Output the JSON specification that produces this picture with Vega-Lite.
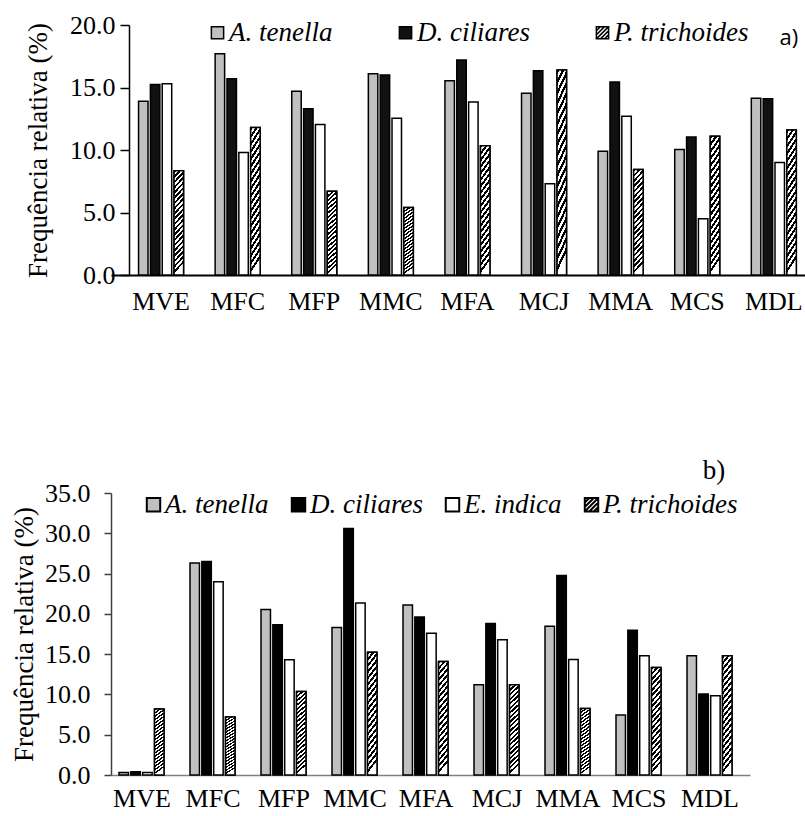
{
  "$schema": "https://vega.github.io/schema/vega-lite/v6.json",
  "background": "white",
  "padding": {"left": 10, "top": 12, "right": 0, "bottom": 0},
  "spacing": 143,
  "resolve": {"scale": {"fill": "independent"}, "legend": {"fill": "independent"}},
  "config": {
    "view": {"stroke": null},
    "font": "Liberation Serif",
    "axis": {"labelFont": "Liberation Serif", "titleFont": "Liberation Serif", "labelColor": "black", "titleColor": "black", "titleFontWeight": "normal", "grid": false},
    "legend": {"labelFont": "Liberation Serif", "labelFontStyle": "italic", "labelFontSize": 27, "labelColor": "black"}
  },
  "datasets": {
    "a": [
      {"site": "MVE", "sp": "A. tenella", "v": 13.9}, {"site": "MVE", "sp": "D. ciliares", "v": 15.25}, {"site": "MVE", "sp": "E. indica", "v": 15.3}, {"site": "MVE", "sp": "P. trichoides", "v": 8.35},
      {"site": "MFC", "sp": "A. tenella", "v": 17.7}, {"site": "MFC", "sp": "D. ciliares", "v": 15.7}, {"site": "MFC", "sp": "E. indica", "v": 9.8}, {"site": "MFC", "sp": "P. trichoides", "v": 11.8},
      {"site": "MFP", "sp": "A. tenella", "v": 14.7}, {"site": "MFP", "sp": "D. ciliares", "v": 13.3}, {"site": "MFP", "sp": "E. indica", "v": 12.05}, {"site": "MFP", "sp": "P. trichoides", "v": 6.7},
      {"site": "MMC", "sp": "A. tenella", "v": 16.1}, {"site": "MMC", "sp": "D. ciliares", "v": 16.0}, {"site": "MMC", "sp": "E. indica", "v": 12.55}, {"site": "MMC", "sp": "P. trichoides", "v": 5.4},
      {"site": "MFA", "sp": "A. tenella", "v": 15.55}, {"site": "MFA", "sp": "D. ciliares", "v": 17.2}, {"site": "MFA", "sp": "E. indica", "v": 13.85}, {"site": "MFA", "sp": "P. trichoides", "v": 10.35},
      {"site": "MCJ", "sp": "A. tenella", "v": 14.55}, {"site": "MCJ", "sp": "D. ciliares", "v": 16.35}, {"site": "MCJ", "sp": "E. indica", "v": 7.3}, {"site": "MCJ", "sp": "P. trichoides", "v": 16.4},
      {"site": "MMA", "sp": "A. tenella", "v": 9.9}, {"site": "MMA", "sp": "D. ciliares", "v": 15.45}, {"site": "MMA", "sp": "E. indica", "v": 12.7}, {"site": "MMA", "sp": "P. trichoides", "v": 8.45},
      {"site": "MCS", "sp": "A. tenella", "v": 10.05}, {"site": "MCS", "sp": "D. ciliares", "v": 11.05}, {"site": "MCS", "sp": "E. indica", "v": 4.5}, {"site": "MCS", "sp": "P. trichoides", "v": 11.1},
      {"site": "MDL", "sp": "A. tenella", "v": 14.15}, {"site": "MDL", "sp": "D. ciliares", "v": 14.1}, {"site": "MDL", "sp": "E. indica", "v": 9.0}, {"site": "MDL", "sp": "P. trichoides", "v": 11.6}
    ],
    "b": [
      {"site": "MVE", "sp": "A. tenella", "v": 0.3}, {"site": "MVE", "sp": "D. ciliares", "v": 0.4}, {"site": "MVE", "sp": "E. indica", "v": 0.3}, {"site": "MVE", "sp": "P. trichoides", "v": 8.2},
      {"site": "MFC", "sp": "A. tenella", "v": 26.3}, {"site": "MFC", "sp": "D. ciliares", "v": 26.5}, {"site": "MFC", "sp": "E. indica", "v": 24.0}, {"site": "MFC", "sp": "P. trichoides", "v": 7.2},
      {"site": "MFP", "sp": "A. tenella", "v": 20.55}, {"site": "MFP", "sp": "D. ciliares", "v": 18.65}, {"site": "MFP", "sp": "E. indica", "v": 14.3}, {"site": "MFP", "sp": "P. trichoides", "v": 10.35},
      {"site": "MMC", "sp": "A. tenella", "v": 18.3}, {"site": "MMC", "sp": "D. ciliares", "v": 30.6}, {"site": "MMC", "sp": "E. indica", "v": 21.35}, {"site": "MMC", "sp": "P. trichoides", "v": 15.25},
      {"site": "MFA", "sp": "A. tenella", "v": 21.1}, {"site": "MFA", "sp": "D. ciliares", "v": 19.6}, {"site": "MFA", "sp": "E. indica", "v": 17.6}, {"site": "MFA", "sp": "P. trichoides", "v": 14.1},
      {"site": "MCJ", "sp": "A. tenella", "v": 11.2}, {"site": "MCJ", "sp": "D. ciliares", "v": 18.8}, {"site": "MCJ", "sp": "E. indica", "v": 16.8}, {"site": "MCJ", "sp": "P. trichoides", "v": 11.2},
      {"site": "MMA", "sp": "A. tenella", "v": 18.45}, {"site": "MMA", "sp": "D. ciliares", "v": 24.75}, {"site": "MMA", "sp": "E. indica", "v": 14.35}, {"site": "MMA", "sp": "P. trichoides", "v": 8.25},
      {"site": "MCS", "sp": "A. tenella", "v": 7.45}, {"site": "MCS", "sp": "D. ciliares", "v": 17.95}, {"site": "MCS", "sp": "E. indica", "v": 14.8}, {"site": "MCS", "sp": "P. trichoides", "v": 13.35},
      {"site": "MDL", "sp": "A. tenella", "v": 14.8}, {"site": "MDL", "sp": "D. ciliares", "v": 10.05}, {"site": "MDL", "sp": "E. indica", "v": 9.85}, {"site": "MDL", "sp": "P. trichoides", "v": 14.8}
    ]
  },
  "vconcat": [
    {
      "width": 695,
      "height": 250,
      "layer": [
        {
          "data": {"name": "a"},
          "mark": {"type": "bar", "stroke": "black", "strokeWidth": 1.5},
          "encoding": {
            "x": {"field": "site", "type": "nominal", "sort": ["MVE", "MFC", "MFP", "MMC", "MFA", "MCJ", "MMA", "MCS", "MDL"],
              "scale": {"paddingInner": 0.4125, "paddingOuter": 0.243, "align": 0.74},
              "axis": {"title": null, "labelAngle": 0, "ticks": false, "tickSize": 0, "labelPadding": 13, "labelFontSize": 26, "domainColor": "black", "domainWidth": 2}},
            "xOffset": {"field": "sp", "type": "nominal", "sort": ["A. tenella", "D. ciliares", "E. indica", "P. trichoides"], "scale": {"paddingInner": 0.2}},
            "y": {"field": "v", "type": "quantitative", "scale": {"domain": [0, 20]},
              "axis": {"title": "Frequência relativa (%)", "values": [0, 5, 10, 15, 20], "format": ".1f", "offset": -18, "tickSize": 9, "tickColor": "black", "tickWidth": 1.5, "domainColor": "black", "domainWidth": 1.5, "labelPadding": 5, "labelFontSize": 26, "titleFontSize": 27, "titlePadding": 17}},
            "fill": {"field": "sp", "type": "nominal",
              "scale": {"domain": ["A. tenella", "D. ciliares", "E. indica", "P. trichoides"], "range": ["#c0c0c0", "#111111", "#ffffff", "#ffffff"]},
              "legend": {"orient": "none", "legendX": 93, "legendY": -6, "direction": "horizontal", "title": null, "padding": 0,
                "values": ["A. tenella", "D. ciliares", "P. trichoides"],
                "labelFont": "Liberation Serif", "labelFontStyle": "italic", "labelFontSize": 27, "labelColor": "black", "labelOffset": -2, "columnPadding": 59,
                "symbolType": "square", "symbolSize": 150, "symbolStrokeColor": "black", "symbolStrokeWidth": 1.5,
                "encode": {"symbols": {"update": {"shape": {"signal": "datum.value === 'P. trichoides' ? 'M-1,-1H1V1H-1Z M-1,-0.33L-0.33,-1 M-1,0.33L0.33,-1 M-1,1L1,-1 M-0.33,1L1,-0.33 M0.33,1L1,0.33' : 'square'"}, "stroke": {"value": "black"}, "strokeWidth": {"value": 1.5}}}}}
            }
          }
        },
        {
          "data": {"name": "a"},
          "transform": [{"filter": "datum.sp === 'P. trichoides'"}],
          "mark": {"type": "bar", "stroke": "black", "strokeWidth": 1.5,
            "fill": {"gradient": "linear", "x1": 0, "y1": 0, "x2": 0.1, "y2": 1, "stops": [
              {"offset": 0, "color": "#000"}, {"offset": 0.025, "color": "#000"}, {"offset": 0.025, "color": "#fff"}, {"offset": 0.05, "color": "#fff"},
              {"offset": 0.05, "color": "#000"}, {"offset": 0.075, "color": "#000"}, {"offset": 0.075, "color": "#fff"}, {"offset": 0.1, "color": "#fff"},
              {"offset": 0.1, "color": "#000"}, {"offset": 0.125, "color": "#000"}, {"offset": 0.125, "color": "#fff"}, {"offset": 0.15, "color": "#fff"},
              {"offset": 0.15, "color": "#000"}, {"offset": 0.175, "color": "#000"}, {"offset": 0.175, "color": "#fff"}, {"offset": 0.2, "color": "#fff"},
              {"offset": 0.2, "color": "#000"}, {"offset": 0.225, "color": "#000"}, {"offset": 0.225, "color": "#fff"}, {"offset": 0.25, "color": "#fff"},
              {"offset": 0.25, "color": "#000"}, {"offset": 0.275, "color": "#000"}, {"offset": 0.275, "color": "#fff"}, {"offset": 0.3, "color": "#fff"},
              {"offset": 0.3, "color": "#000"}, {"offset": 0.325, "color": "#000"}, {"offset": 0.325, "color": "#fff"}, {"offset": 0.35, "color": "#fff"},
              {"offset": 0.35, "color": "#000"}, {"offset": 0.375, "color": "#000"}, {"offset": 0.375, "color": "#fff"}, {"offset": 0.4, "color": "#fff"},
              {"offset": 0.4, "color": "#000"}, {"offset": 0.425, "color": "#000"}, {"offset": 0.425, "color": "#fff"}, {"offset": 0.45, "color": "#fff"},
              {"offset": 0.45, "color": "#000"}, {"offset": 0.475, "color": "#000"}, {"offset": 0.475, "color": "#fff"}, {"offset": 0.5, "color": "#fff"},
              {"offset": 0.5, "color": "#000"}, {"offset": 0.525, "color": "#000"}, {"offset": 0.525, "color": "#fff"}, {"offset": 0.55, "color": "#fff"},
              {"offset": 0.55, "color": "#000"}, {"offset": 0.575, "color": "#000"}, {"offset": 0.575, "color": "#fff"}, {"offset": 0.6, "color": "#fff"},
              {"offset": 0.6, "color": "#000"}, {"offset": 0.625, "color": "#000"}, {"offset": 0.625, "color": "#fff"}, {"offset": 0.65, "color": "#fff"},
              {"offset": 0.65, "color": "#000"}, {"offset": 0.675, "color": "#000"}, {"offset": 0.675, "color": "#fff"}, {"offset": 0.7, "color": "#fff"},
              {"offset": 0.7, "color": "#000"}, {"offset": 0.725, "color": "#000"}, {"offset": 0.725, "color": "#fff"}, {"offset": 0.75, "color": "#fff"},
              {"offset": 0.75, "color": "#000"}, {"offset": 0.775, "color": "#000"}, {"offset": 0.775, "color": "#fff"}, {"offset": 0.8, "color": "#fff"},
              {"offset": 0.8, "color": "#000"}, {"offset": 0.825, "color": "#000"}, {"offset": 0.825, "color": "#fff"}, {"offset": 0.85, "color": "#fff"},
              {"offset": 0.85, "color": "#000"}, {"offset": 0.875, "color": "#000"}, {"offset": 0.875, "color": "#fff"}, {"offset": 0.9, "color": "#fff"},
              {"offset": 0.9, "color": "#000"}, {"offset": 0.925, "color": "#000"}, {"offset": 0.925, "color": "#fff"}, {"offset": 0.95, "color": "#fff"},
              {"offset": 0.95, "color": "#000"}, {"offset": 0.975, "color": "#000"}, {"offset": 0.975, "color": "#fff"}, {"offset": 1, "color": "#fff"}
            ]}},
          "encoding": {
            "x": {"field": "site", "type": "nominal", "sort": ["MVE", "MFC", "MFP", "MMC", "MFA", "MCJ", "MMA", "MCS", "MDL"]},
            "xOffset": {"field": "sp", "type": "nominal", "sort": ["A. tenella", "D. ciliares", "E. indica", "P. trichoides"]},
            "y": {"field": "v", "type": "quantitative"}
          }
        },
        {
          "data": {"values": [{"label": "a)"}]},
          "mark": {"type": "text", "font": "Open Sans", "fontSize": 22, "color": "black", "align": "center", "baseline": "middle", "dx": 15},
          "encoding": {
            "x": {"datum": "MDL", "type": "nominal"},
            "y": {"datum": 19, "type": "quantitative"},
            "text": {"field": "label"}
          }
        }
      ]
    },
    {
      "width": 639,
      "height": 282,
      "layer": [
        {
          "data": {"name": "b"},
          "mark": {"type": "bar", "stroke": "black", "strokeWidth": 1.5},
          "encoding": {
            "x": {"field": "site", "type": "nominal", "sort": ["MVE", "MFC", "MFP", "MMC", "MFA", "MCJ", "MMA", "MCS", "MDL"],
              "scale": {"paddingInner": 0.352, "paddingOuter": 0.176, "align": 0.32},
              "axis": {"title": null, "labelAngle": 0, "ticks": false, "tickSize": 0, "labelPadding": 10, "labelFontSize": 26, "domainColor": "#808080", "domainWidth": 1.5}},
            "xOffset": {"field": "sp", "type": "nominal", "sort": ["A. tenella", "D. ciliares", "E. indica", "P. trichoides"], "scale": {"paddingInner": 0.05}},
            "y": {"field": "v", "type": "quantitative", "scale": {"domain": [0, 35]},
              "axis": {"title": "Frequência relativa (%)", "values": [0, 5, 10, 15, 20, 25, 30, 35], "format": ".1f", "tickSize": 7, "tickColor": "#404040", "tickWidth": 1.5, "domainColor": "#404040", "domainWidth": 1.5, "labelPadding": 14, "labelFontSize": 26, "titleFontSize": 27, "titlePadding": 6}},
            "fill": {"field": "sp", "type": "nominal",
              "scale": {"domain": ["A. tenella", "D. ciliares", "E. indica", "P. trichoides"], "range": ["#c0c0c0", "#000000", "#ffffff", "#ffffff"]},
              "legend": {"orient": "none", "legendX": 29, "legendY": -2, "direction": "horizontal", "title": null, "padding": 0,
                "labelFont": "Liberation Serif", "labelFontStyle": "italic", "labelFontSize": 27, "labelColor": "black", "labelOffset": -2, "columnPadding": 16,
                "symbolType": "square", "symbolSize": 180, "symbolStrokeColor": "black", "symbolStrokeWidth": 2,
                "encode": {"symbols": {"update": {"shape": {"signal": "datum.value === 'P. trichoides' ? 'M-1,-1H1V1H-1Z M-1,-0.33L-0.33,-1 M-1,0.33L0.33,-1 M-1,1L1,-1 M-0.33,1L1,-0.33 M0.33,1L1,0.33' : 'square'"}, "stroke": {"value": "black"}, "strokeWidth": {"value": 2}}}}}
            }
          }
        },
        {
          "data": {"name": "b"},
          "transform": [{"filter": "datum.sp === 'P. trichoides'"}],
          "mark": {"type": "bar", "stroke": "black", "strokeWidth": 1.5,
            "fill": {"gradient": "linear", "x1": 0, "y1": 0, "x2": 0.1, "y2": 1, "stops": [
              {"offset": 0, "color": "#000"}, {"offset": 0.025, "color": "#000"}, {"offset": 0.025, "color": "#fff"}, {"offset": 0.05, "color": "#fff"},
              {"offset": 0.05, "color": "#000"}, {"offset": 0.075, "color": "#000"}, {"offset": 0.075, "color": "#fff"}, {"offset": 0.1, "color": "#fff"},
              {"offset": 0.1, "color": "#000"}, {"offset": 0.125, "color": "#000"}, {"offset": 0.125, "color": "#fff"}, {"offset": 0.15, "color": "#fff"},
              {"offset": 0.15, "color": "#000"}, {"offset": 0.175, "color": "#000"}, {"offset": 0.175, "color": "#fff"}, {"offset": 0.2, "color": "#fff"},
              {"offset": 0.2, "color": "#000"}, {"offset": 0.225, "color": "#000"}, {"offset": 0.225, "color": "#fff"}, {"offset": 0.25, "color": "#fff"},
              {"offset": 0.25, "color": "#000"}, {"offset": 0.275, "color": "#000"}, {"offset": 0.275, "color": "#fff"}, {"offset": 0.3, "color": "#fff"},
              {"offset": 0.3, "color": "#000"}, {"offset": 0.325, "color": "#000"}, {"offset": 0.325, "color": "#fff"}, {"offset": 0.35, "color": "#fff"},
              {"offset": 0.35, "color": "#000"}, {"offset": 0.375, "color": "#000"}, {"offset": 0.375, "color": "#fff"}, {"offset": 0.4, "color": "#fff"},
              {"offset": 0.4, "color": "#000"}, {"offset": 0.425, "color": "#000"}, {"offset": 0.425, "color": "#fff"}, {"offset": 0.45, "color": "#fff"},
              {"offset": 0.45, "color": "#000"}, {"offset": 0.475, "color": "#000"}, {"offset": 0.475, "color": "#fff"}, {"offset": 0.5, "color": "#fff"},
              {"offset": 0.5, "color": "#000"}, {"offset": 0.525, "color": "#000"}, {"offset": 0.525, "color": "#fff"}, {"offset": 0.55, "color": "#fff"},
              {"offset": 0.55, "color": "#000"}, {"offset": 0.575, "color": "#000"}, {"offset": 0.575, "color": "#fff"}, {"offset": 0.6, "color": "#fff"},
              {"offset": 0.6, "color": "#000"}, {"offset": 0.625, "color": "#000"}, {"offset": 0.625, "color": "#fff"}, {"offset": 0.65, "color": "#fff"},
              {"offset": 0.65, "color": "#000"}, {"offset": 0.675, "color": "#000"}, {"offset": 0.675, "color": "#fff"}, {"offset": 0.7, "color": "#fff"},
              {"offset": 0.7, "color": "#000"}, {"offset": 0.725, "color": "#000"}, {"offset": 0.725, "color": "#fff"}, {"offset": 0.75, "color": "#fff"},
              {"offset": 0.75, "color": "#000"}, {"offset": 0.775, "color": "#000"}, {"offset": 0.775, "color": "#fff"}, {"offset": 0.8, "color": "#fff"},
              {"offset": 0.8, "color": "#000"}, {"offset": 0.825, "color": "#000"}, {"offset": 0.825, "color": "#fff"}, {"offset": 0.85, "color": "#fff"},
              {"offset": 0.85, "color": "#000"}, {"offset": 0.875, "color": "#000"}, {"offset": 0.875, "color": "#fff"}, {"offset": 0.9, "color": "#fff"},
              {"offset": 0.9, "color": "#000"}, {"offset": 0.925, "color": "#000"}, {"offset": 0.925, "color": "#fff"}, {"offset": 0.95, "color": "#fff"},
              {"offset": 0.95, "color": "#000"}, {"offset": 0.975, "color": "#000"}, {"offset": 0.975, "color": "#fff"}, {"offset": 1, "color": "#fff"}
            ]}},
          "encoding": {
            "x": {"field": "site", "type": "nominal", "sort": ["MVE", "MFC", "MFP", "MMC", "MFA", "MCJ", "MMA", "MCS", "MDL"]},
            "xOffset": {"field": "sp", "type": "nominal", "sort": ["A. tenella", "D. ciliares", "E. indica", "P. trichoides"]},
            "y": {"field": "v", "type": "quantitative"}
          }
        },
        {
          "data": {"values": [{"label": "b)"}]},
          "mark": {"type": "text", "font": "Liberation Serif", "fontSize": 27, "color": "black", "align": "center", "baseline": "middle", "dx": 4},
          "encoding": {
            "x": {"datum": "MDL", "type": "nominal"},
            "y": {"datum": 37.7, "type": "quantitative"},
            "text": {"field": "label"}
          }
        }
      ]
    }
  ]
}
